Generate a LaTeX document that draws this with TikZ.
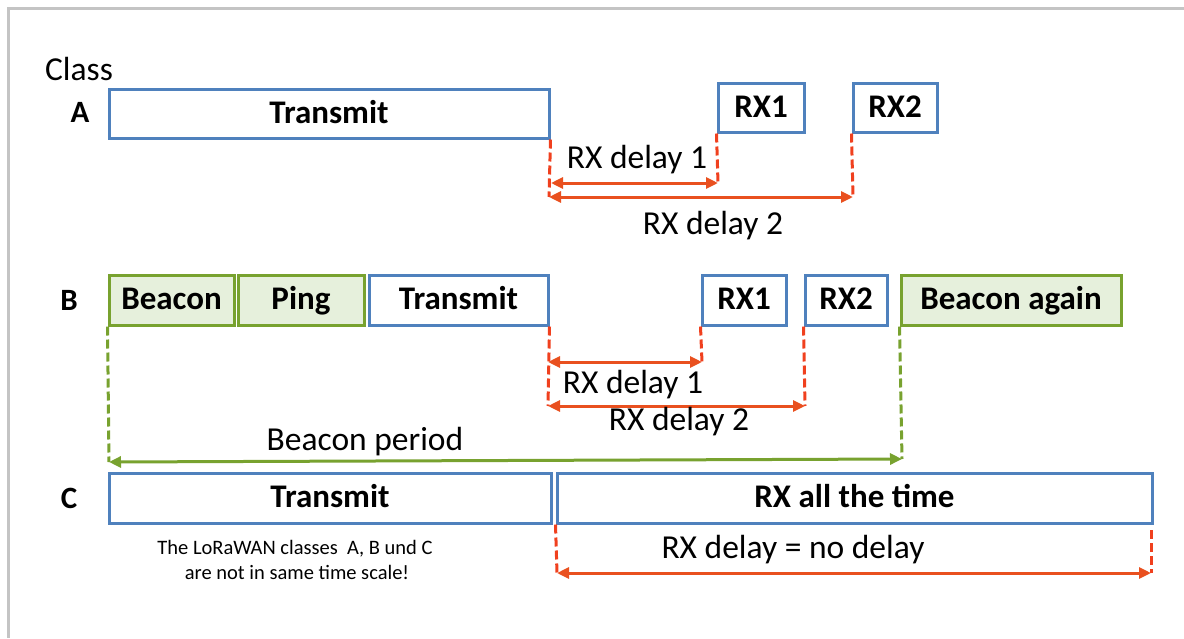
\documentclass[tikz,border=0pt]{standalone}
\usepackage{fontspec}
\setmainfont{Carlito}
\usetikzlibrary{arrows.meta}
\definecolor{boxblue}{HTML}{4F81BD}
\definecolor{boxgreen}{HTML}{78A22F}
\definecolor{boxfill}{HTML}{E6F0DC}
\definecolor{delayred}{HTML}{F0401E}
\definecolor{arrred}{HTML}{E9501F}
\definecolor{framegray}{HTML}{C4C4C4}
\begin{document}
\begin{tikzpicture}[x=1pt,y=-1pt,
  blk/.style={draw=boxblue,fill=white,line width=3pt,inner sep=0pt,minimum height=49pt,
    text height=19pt,text depth=0pt,font=\bfseries\fontsize{33}{38}\selectfont},
  gblk/.style={blk,draw=boxgreen,fill=boxfill},
  lbl/.style={anchor=base,inner sep=0pt,font=\fontsize{33.5}{38}\selectfont},
  cls/.style={lbl,font=\bfseries\fontsize{31}{36}\selectfont},
  note/.style={anchor=base,inner sep=0pt,font=\fontsize{20.5}{24}\selectfont},
  rdash/.style={draw=delayred,line width=3pt,dash pattern=on 9pt off 4pt},
  gdash/.style={draw=boxgreen,line width=3pt,dash pattern=on 9pt off 4pt},
  rarr/.style={draw=arrred,line width=3pt,{Triangle[length=12pt,width=11pt]}-{Triangle[length=12pt,width=11pt]}},
  garr/.style={rarr,draw=boxgreen}]
 \useasboundingbox (0,0) rectangle (1184,638);
 \draw[framegray,line width=3pt] (1184,8) -- (8,8) -- (8,638);

 \node[lbl] (class) at (79,80) {Class};
 \node[cls] (cla) at (80,122) {A};
 \node[cls] (clb) at (69,310) {B};
 \node[cls] (clc) at (69,508) {C};

 % class A
 \node[blk,minimum width=440pt] (txa) at (329,113.5) {Transmit};
 \node[blk,minimum width=86pt] (rxa1) at (761,107.5) {RX1};
 \node[blk,minimum width=84pt] (rxa2) at (895,107.5) {RX2};
 \coordinate (a0) at (549,197);
 \coordinate (a0m) at (551,183);
 \coordinate (a1) at (718,183);
 \coordinate (a2) at (853,197);
 \draw[rdash] (txa.south east) -- (a0);
 \draw[rdash] (rxa1.south west) -- (a1);
 \draw[rdash] (rxa2.south west) -- (a2);
 \draw[rarr] (a0m) -- (a1);
 \draw[rarr] (a0) -- (a2);
 \node[lbl] (da1) at (637,168) {RX delay 1};
 \node[lbl] (da2) at (713,234) {RX delay 2};

 % class B
 \node[gblk,minimum width=125pt,minimum height=50pt] (bcn) at (171.5,300) {Beacon};
 \node[gblk,minimum width=126pt,minimum height=50pt] (png) at (301,300) {Ping};
 \node[blk,minimum width=179pt,minimum height=50pt] (txb) at (458.5,300) {Transmit};
 \node[blk,minimum width=84pt,minimum height=50pt] (rxb1) at (744,300) {RX1};
 \node[blk,minimum width=82pt,minimum height=50pt] (rxb2) at (846,300) {RX2};
 \node[gblk,minimum width=220pt,minimum height=50pt] (bag) at (1011,300) {Beacon again};
 \coordinate (b0) at (109,462);
 \coordinate (b5) at (902,459);
 \coordinate (b1) at (548,406);
 \coordinate (b1m) at (548,362);
 \coordinate (b2) at (702,362);
 \coordinate (b3) at (805,406);
 \draw[gdash] (bcn.south west) -- (b0);
 \draw[gdash] (bag.south west) -- (b5);
 \draw[rdash] (txb.south east) -- (b1);
 \draw[rdash] (rxb1.south west) -- (b2);
 \draw[rdash] (rxb2.south west) -- (b3);
 \draw[rarr] (b1m) -- (b2);
 \draw[rarr] (b1) -- (b3);
 \draw[garr] (b0) -- (b5);
 \node[lbl] (db1) at (633,393) {RX delay 1};
 \node[lbl] (db2) at (679,430) {RX delay 2};
 \node[lbl] (bper) at (365,450) {Beacon period};

 % class C
 \node[blk,minimum width=442pt,minimum height=50pt] (txc) at (330,498) {Transmit};
 \node[blk,minimum width=595pt,minimum height=50pt] (rxc) at (854.5,498) {RX all the time};
 \coordinate (c0) at (557,573);
 \coordinate (c1t) at (1151,530);
 \coordinate (c1) at (1151,573);
 \draw[rdash] (rxc.south west) -- (c0);
 \draw[rdash] (c1t) -- (c1);
 \draw[rarr] (c0) -- (c1);
 \node[lbl] (dc) at (793,558) {RX delay = no delay};
 \node[note] (note1) at (295,554) {The LoRaWAN classes\ \ A, B und C};
 \node[note] (note2) at (297,579) {are not in same time scale!};
\end{tikzpicture}
\end{document}
